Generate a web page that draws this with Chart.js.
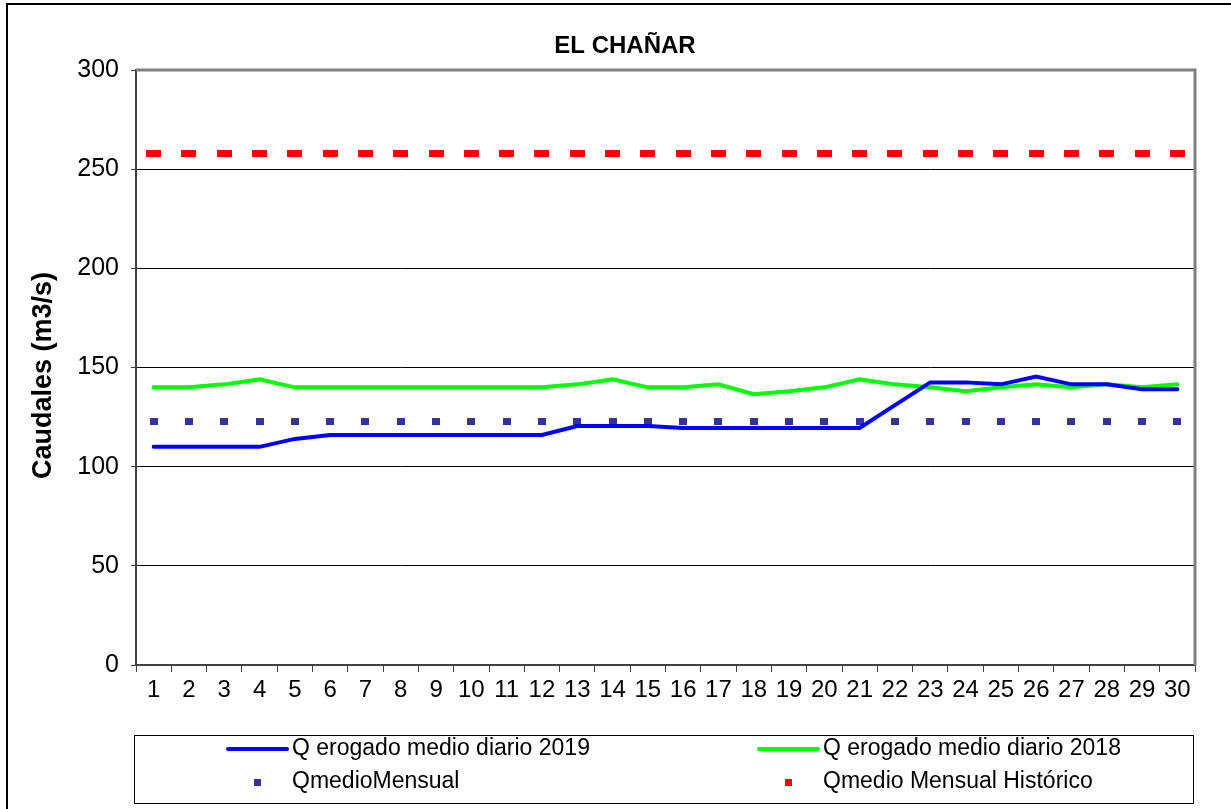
<!DOCTYPE html>
<html>
<head>
<meta charset="utf-8">
<script src="https://cdn.jsdelivr.net/npm/chart.js@4"></script>
<style>
  html, body { margin: 0; padding: 0; background: #fff; }
  #wrap { width: 1231px; height: 809px; }
</style>
</head>
<body>
<div id="wrap"><canvas id="chartCanvas" width="1231" height="809"></canvas></div>
<script>
const days = ['1','2','3','4','5','6','7','8','9','10','11','12','13','14','15',
              '16','17','18','19','20','21','22','23','24','25','26','27','28','29','30'];
const caudal2019 = [110, 110, 110, 110, 114, 116, 116, 116, 116, 116, 116, 116, 120.5, 120.5, 120.5,
                    119.5, 119.5, 119.5, 119.5, 119.5, 119.5, 131, 142.5, 142.5, 141.5, 145.5, 141.5, 141.5, 139, 139];
const caudal2018 = [140, 140, 141.5, 144, 140, 140, 140, 140, 140, 140, 140, 140, 141.5, 144, 140,
                    140, 141.5, 136.5, 138, 140, 144, 141.5, 140, 138, 140, 141.5, 140, 141.5, 140, 141.5];
const qMedioMensual = 123;
const qMedioHistorico = 258;
const yTicks = [0, 50, 100, 150, 200, 250, 300];

const FONT = "'Liberation Sans', Arial, sans-serif";

// rectangular markers used for the flat reference series
function makeMark(w, h, color) {
  const c = document.createElement('canvas');
  c.width = w; c.height = h;
  const g = c.getContext('2d');
  g.fillStyle = color;
  g.fillRect(0, 0, w, h);
  return c;
}
const navyMark = makeMark(8, 7, '#333399');
const redMark = makeMark(15, 7, '#FF0000');

const framePlugin = {
  id: 'frame',
  afterDraw(chart) {
    const ctx = chart.ctx;
    const a = chart.chartArea;
    ctx.save();
    // outer border
    ctx.strokeStyle = '#000';
    ctx.lineWidth = 2;
    ctx.beginPath();
    ctx.moveTo(7, 812);
    ctx.lineTo(7, 4);
    ctx.lineTo(1235, 4);
    ctx.stroke();

    // grey top/right border of the plot
    ctx.strokeStyle = '#808080';
    ctx.lineWidth = 3;
    ctx.beginPath();
    ctx.moveTo(a.left, a.top);
    ctx.lineTo(a.right, a.top);
    ctx.lineTo(a.right, a.bottom);
    ctx.stroke();

    // title
    ctx.fillStyle = '#000';
    ctx.font = 'bold 24px ' + FONT;
    ctx.textAlign = 'center';
    ctx.textBaseline = 'middle';
    ctx.fillText('EL CHAÑAR', 625, 46);

    // y axis title
    ctx.save();
    ctx.translate(44, (a.top + a.bottom) / 2 + 8);
    ctx.rotate(-Math.PI / 2);
    ctx.font = 'bold 27px ' + FONT;
    ctx.fillText('Caudales (m3/s)', 0, 0);
    ctx.restore();

    // legend box
    ctx.strokeStyle = '#000';
    ctx.lineWidth = 1;
    ctx.strokeRect(134.5, 735.5, 1059, 68);

    const ds = chart.data.datasets;
    const cols = [226, 757];
    const rows = [749, 782];
    ctx.font = '23px ' + FONT;
    ctx.textAlign = 'left';
    ds.forEach((d, i) => {
      const x = cols[i % 2];
      const y = rows[Math.floor(i / 2)];
      if (d.showLine === false) {
        ctx.fillStyle = d.legendColor;
        ctx.fillRect(x + 28, y - 3, 7, 7);
      } else {
        ctx.strokeStyle = d.borderColor;
        ctx.lineWidth = 4;
        ctx.lineCap = 'round';
        ctx.beginPath();
        ctx.moveTo(x + 2, y);
        ctx.lineTo(x + 61, y);
        ctx.stroke();
      }
      ctx.fillStyle = '#000';
      ctx.fillText(d.label, x + 66, y);
    });
    ctx.restore();
  }
};

const ctx = document.getElementById('chartCanvas').getContext('2d');
const chart = new Chart(ctx, {
  type: 'line',
  data: {
    labels: days,
    datasets: [{
      label: 'Q erogado medio diario 2019',
      data: caudal2019,
      borderColor: '#0000FF',
      borderWidth: 4,
      borderCapStyle: 'round',
      pointRadius: 0,
      tension: 0
    }, {
      label: 'Q erogado medio diario 2018',
      data: caudal2018,
      borderColor: '#00FF00',
      borderWidth: 4,
      borderCapStyle: 'round',
      pointRadius: 0,
      tension: 0
    }, {
      label: 'QmedioMensual',
      data: days.map(() => qMedioMensual),
      showLine: false,
      legendColor: '#333399',
      pointStyle: navyMark,
      pointRadius: 4
    }, {
      label: 'Qmedio Mensual Histórico',
      data: days.map(() => qMedioHistorico),
      showLine: false,
      legendColor: '#FF0000',
      pointStyle: redMark,
      pointRadius: 4
    }]
  },
  options: {
    responsive: false,
    animation: false,
    layout: { padding: { top: 70, right: 36, bottom: 84, left: 0 } },
    plugins: {
      legend: { display: false },
      title: { display: false },
      tooltip: { enabled: false }
    },
    scales: {
      x: {
        offset: true,
        afterFit(scale) { scale.height = 60; },
        grid: {
          offset: true,
          drawOnChartArea: false,
          drawTicks: true,
          tickLength: 7,
          tickColor: '#404040',
          tickWidth: 1
        },
        border: { color: '#404040', width: 2 },
        ticks: {
          color: '#000',
          font: { family: FONT, size: 24 },
          maxRotation: 0,
          autoSkip: false,
          padding: 4
        }
      },
      y: {
        min: 0,
        max: 300,
        afterFit(scale) { scale.width = 136; },
        afterBuildTicks(scale) { scale.ticks = yTicks.map(v => ({ value: v })); },
        grid: {
          color: c => (c.tick.value === 0 || c.tick.value === 300) ? 'rgba(0,0,0,0)' : '#000',
          lineWidth: 1,
          drawTicks: true,
          tickLength: 5,
          tickColor: '#404040'
        },
        border: { color: '#404040', width: 2 },
        ticks: {
          color: '#000',
          font: { family: FONT, size: 25 },
          padding: 12
        }
      }
    }
  },
  plugins: [framePlugin]
});
</script>
</body>
</html>
